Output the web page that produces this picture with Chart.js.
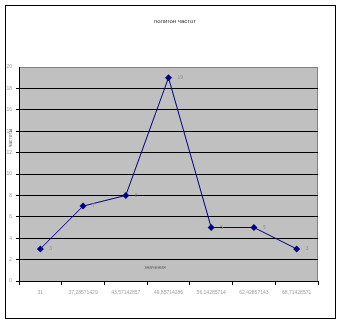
<!DOCTYPE html>
<html>
<head>
<meta charset="utf-8">
<script src="https://cdn.jsdelivr.net/npm/chart.js@4/dist/chart.umd.min.js"></script>
<style>
  html, body { margin: 0; padding: 0; background: #fff; }
  #wrap { width: 342px; height: 324px; }
</style>
</head>
<body>
<div id="wrap"><canvas id="polygonChart"></canvas></div>
<script>
const categories = ["31", "37,28571429", "43,57142857", "49,85714286", "56,14285714", "62,42857143", "68,71428571"];
const frequencies = [3, 7, 8, 19, 5, 5, 3];
const titleText = "полигон частот";
const yTitle = "частоты";
const xTitle = "значения";

// frame, grey plot area, titles and point labels
const decor = {
  id: "decor",
  beforeDraw(chart) {
    const ctx = chart.ctx;
    const a = chart.chartArea;
    ctx.save();
    ctx.fillStyle = "#fff";
    ctx.fillRect(0, 0, chart.width, chart.height);
    ctx.strokeStyle = "#000";
    ctx.lineWidth = 1;
    ctx.strokeRect(5.5, 5.5, 330, 313);
    ctx.fillStyle = "#c0c0c0";
    ctx.fillRect(a.left, a.top, a.right - a.left, a.bottom - a.top);
    ctx.strokeStyle = "#808080";
    ctx.strokeRect(a.left + 0.5, a.top + 0.5, a.right - a.left - 1, a.bottom - a.top);
    ctx.restore();
  },
  afterDraw(chart) {
    const ctx = chart.ctx;
    const a = chart.chartArea;
    ctx.save();
    ctx.textAlign = "center";
    ctx.textBaseline = "middle";
    ctx.font = "6px 'Liberation Sans', Arial";
    ctx.fillStyle = "#333";
    ctx.fillText(titleText, 175, 21);
    ctx.font = "5px 'Liberation Sans', Arial";
    ctx.fillStyle = "#666";
    ctx.fillText(xTitle, a.left + 136, a.bottom - 13);
    ctx.translate(11, 138);
    ctx.rotate(-Math.PI / 2);
    ctx.fillText(yTitle, 0, 0);
    ctx.restore();

    ctx.save();
    ctx.font = "5px 'Liberation Sans', Arial";
    ctx.fillStyle = "#909090";
    ctx.textAlign = "left";
    ctx.textBaseline = "middle";
    const meta = chart.getDatasetMeta(0);
    meta.data.forEach((pt, i) => {
      ctx.fillText(String(frequencies[i]), pt.x + 9, pt.y);
    });
    ctx.restore();
  }
};

new Chart(document.getElementById("polygonChart"), {
  type: "line",
  data: {
    labels: categories,
    datasets: [{
      data: frequencies,
      borderColor: "#000080",
      borderWidth: 1,
      backgroundColor: "#000080",
      pointStyle: "rectRot",
      pointRadius: 3.5,
      pointBorderWidth: 0,
      tension: 0,
      fill: false
    }]
  },
  options: {
    responsive: true,
    maintainAspectRatio: false,
    animation: false,
    layout: { padding: { left: 0, right: 24, top: 67, bottom: 0 } },
    plugins: {
      legend: { display: false },
      tooltip: { enabled: false },
      title: { display: false }
    },
    scales: {
      x: {
        offset: true,
        afterFit: (s) => { s.height = 43; },
        grid: {
          offset: true,
          drawOnChartArea: false,
          drawTicks: true,
          tickLength: 4,
          color: "#000"
        },
        border: { color: "#000", width: 1 },
        ticks: {
          color: "#a0a0a0",
          font: { family: "'Liberation Sans', Arial", size: 5 },
          padding: 5,
          maxRotation: 0,
          autoSkip: false
        }
      },
      y: {
        min: 0,
        max: 20,
        afterFit: (s) => { s.width = 19; },
        grid: {
          color: (c) => (c.tick && c.tick.value === 20 ? "rgba(0,0,0,0)" : "#000"),
          tickLength: 3,
          drawTicks: true
        },
        border: { color: "#000", width: 1 },
        ticks: {
          stepSize: 2,
          color: "#a0a0a0",
          font: { family: "'Liberation Sans', Arial", size: 5 },
          padding: 4
        }
      }
    }
  },
  plugins: [decor]
});
</script>
</body>
</html>
